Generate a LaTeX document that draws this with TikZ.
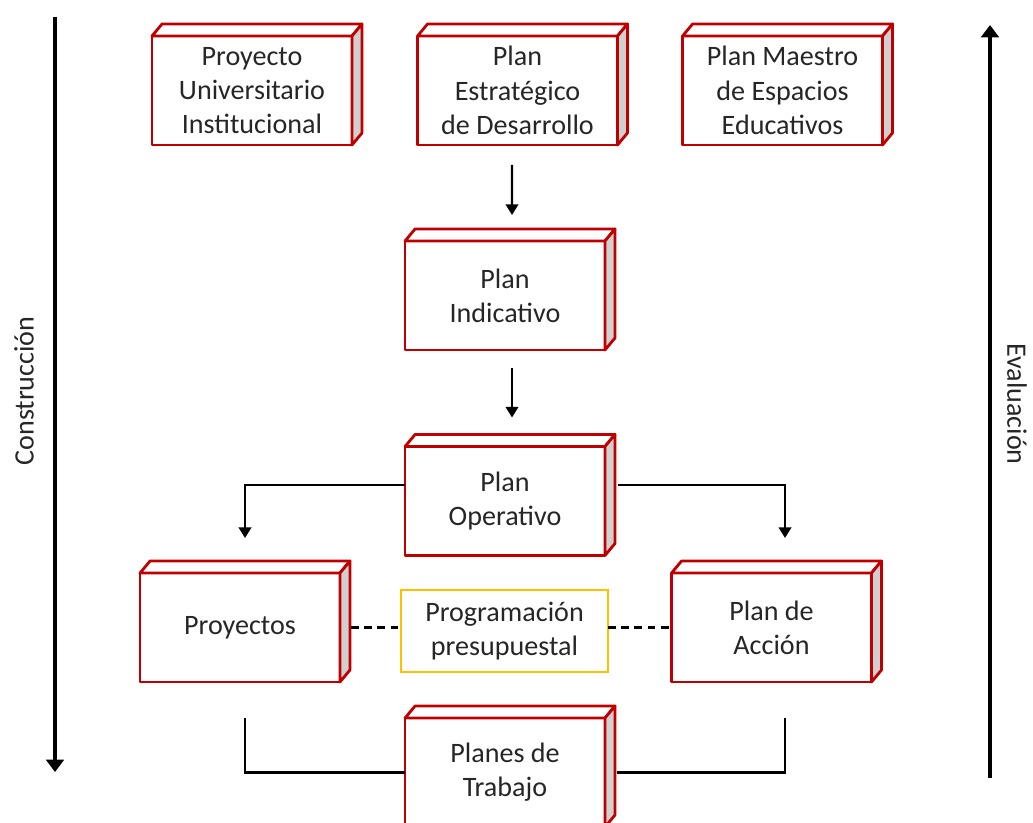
\documentclass[tikz,border=0pt]{standalone}
\usepackage{fontspec}
\setmainfont{Carlito}
\usetikzlibrary{arrows.meta,calc}
\definecolor{cajared}{RGB}{192,0,0}
\definecolor{ladogris}{RGB}{208,208,208}
\definecolor{presuamarillo}{RGB}{255,192,0}
\definecolor{textogris}{RGB}{38,38,38}

% box with top and side faces: name, position, text
\newcommand{\caja}[3]{%
  \node[caja] (#1) at (#2) {#3};
  \draw[cajaborde,fill=white] (#1.north west) -- ++(10,-12)
    -- ($(#1.north east)+(10,-12)$) -- (#1.north east) -- cycle;
  \draw[cajaborde,fill=ladogris] (#1.north east) -- ++(10,-12)
    -- ($(#1.south east)+(10,-12)$) -- (#1.south east) -- cycle;
}

\begin{document}
\begin{tikzpicture}[x=0.02cm, y=-0.02cm,
    every node/.style={font=\fontsize{16}{19.5}\selectfont, text=textogris},
    cajaborde/.style={draw=cajared, line width=1.6pt, line join=round},
    caja/.style={cajaborde, fill=white, minimum width=4cm, minimum height=2.18cm,
      inner sep=0pt, outer sep=0pt, align=center},
    linea/.style={line width=1.4pt, black},
    flecha/.style={linea, -{Triangle[length=6pt,width=7pt]}},
    guion/.style={linea, dash pattern=on 4.5pt off 3pt},
    flechagrande/.style={line width=2pt, -{Triangle[length=7pt,width=10pt]}}]
  \useasboundingbox (0,0) rectangle (1033,822);

  % top row
  \caja{PUI}{252,90.5}{Proyecto\\Universitario\\Institucional}
  \caja{PED}{517.5,90.5}{Plan\\Estratégico\\de Desarrollo}
  \caja{PME}{782.5,90.5}{Plan Maestro\\de Espacios\\Educativos}

  % middle column
  \caja{PI}{505,295.5}{Plan\\Indicativo}
  \caja{PO}{505,501}{Plan\\Operativo}

  % lower row
  \caja{Proyectos}{240,627.5}{Proyectos}
  \caja{PA}{771.5,627.5}{Plan de\\Acción}
  \node[draw=presuamarillo, line width=1.3pt, minimum width=4.14cm, minimum height=1.64cm,
    inner sep=0pt, outer sep=0pt, align=center] (Prog) at (504.5,631)
    {Programación\\presupuestal};
  \caja{PT}{505,772.5}{Planes de\\Trabajo}

  % connectors
  \draw[flecha, shorten <=0.4cm, shorten >=0.52cm] ([xshift=-0.11cm]PED.south)
    -- ([xshift=0.14cm]PI.north);
  \draw[flecha, shorten <=0.36cm, shorten >=0.58cm] ([xshift=0.14cm]PI.south)
    -- ([xshift=0.14cm]PO.north);
  \draw[flecha, shorten >=0.7cm] ([yshift=0.32cm]PO.west) -| ([xshift=0.1cm]Proyectos.north);
  \draw[flecha, shorten >=0.7cm] ([xshift=0.26cm,yshift=0.32cm]PO.east) -| ([xshift=0.27cm]PA.north);
  \draw[guion] ([xshift=0.22cm]Proyectos.east) -- (Proyectos.east -| Prog.west);
  \draw[guion] (PA.west -| Prog.east) -- (PA.west);
  \draw[linea] (PT.west) -| ([xshift=0.1cm,yshift=-0.72cm]Proyectos.south);
  \draw[linea] ([xshift=0.24cm]PT.east) -| ([xshift=0.27cm,yshift=-0.72cm]PA.south);

  % side arrows
  \coordinate (cIni) at (55,17);
  \coordinate (cFin) at (55,772);
  \draw[flechagrande] (cIni) -- (cFin);
  \node[rotate=90] (construccion) at (24,391) {Construcción};
  \coordinate (eIni) at (990,778);
  \coordinate (eFin) at (990,25);
  \draw[flechagrande] (eIni) -- (eFin);
  \node[rotate=-90] (evaluacion) at (1017,404) {Evaluación};
\end{tikzpicture}
\end{document}
